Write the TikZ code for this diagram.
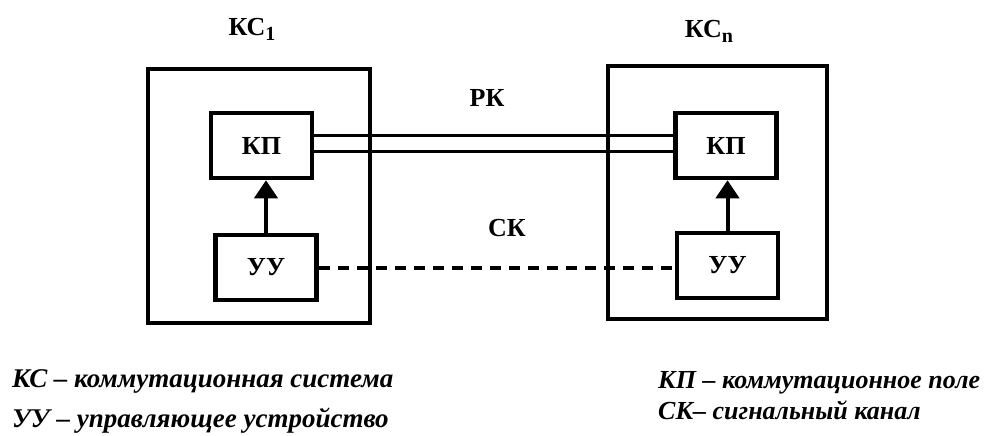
\documentclass[tikz,border=0pt]{standalone}
\usepackage{fontspec}
\setmainfont{Liberation Serif}
\usetikzlibrary{arrows.meta}

\begin{document}
\begin{tikzpicture}[x=1pt,y=-1pt,
  label text/.style={font=\bfseries\fontsize{26}{30}\selectfont, inner sep=0pt},
  legend text/.style={font=\bfseries\itshape\fontsize{27}{30}\selectfont, inner sep=0pt, anchor=base west},
  system box/.style={draw, line width=4pt, inner sep=0pt},
  unit box/.style={draw, line width=4.5pt, minimum width=101pt, minimum height=65pt, inner sep=0pt,
    font=\bfseries\fontsize{26}{30}\selectfont},
  trunk/.style={line width=3pt},
  signal/.style={line width=3.5pt, dash pattern=on 11pt off 8pt},
  control/.style={line width=4pt, -{Triangle[width=23pt,length=18pt]}}
]
\useasboundingbox (0,0) rectangle (989,436);

% switching systems
\node[system box, minimum width=222pt, minimum height=254pt] (ks1) at (259,196) {};
\node[system box, minimum width=219pt, minimum height=253pt] (ksn) at (717.5,192.5) {};

\node[label text] (t1) at (252,29) {КС{\fontsize{20}{20}\selectfont\raisebox{-5pt}{1}}};
\node[label text] (tn) at (709,31) {КС{\fontsize{20}{20}\selectfont\raisebox{-5pt}{n}}};

% switching fields and control units
\node[unit box] (kp1) at (261.5,145.5) {КП};
\node[unit box] (uu1) at (266,267.5) {УУ};
\node[unit box] (kpn) at (726,145.5) {КП};
\node[unit box] (uun) at (727.5,265.5) {УУ};

% control arrows
\draw[control] (uu1.north) -- (uu1.north |- kp1.south);
\draw[control] (uun.north) -- (uun.north |- kpn.south);

% speech channel (double line)
\draw[trunk] (kp1.east |- 0,135) -- (kpn.west |- 0,135);
\draw[trunk] (kp1.east |- 0,151) -- (kpn.west |- 0,151);
\node[label text] (rk) at (487,98) {РК};

% signalling channel
\draw[signal] (uu1.east |- 0,268) -- (uun.west |- 0,268);
\node[label text] (sk) at (507,228) {СК};

% legend
\node[legend text] (l1) at (12,387) {КС – коммутационная система};
\node[legend text] (l2) at (12,427) {УУ – управляющее устройство};
\node[legend text, font=\bfseries\itshape\fontsize{26}{30}\selectfont] (l3) at (658,388) {КП – коммутационное поле};
\node[legend text, font=\bfseries\itshape\fontsize{26}{30}\selectfont] (l4) at (658,419) {СК– сигнальный канал};
\end{tikzpicture}
\end{document}
